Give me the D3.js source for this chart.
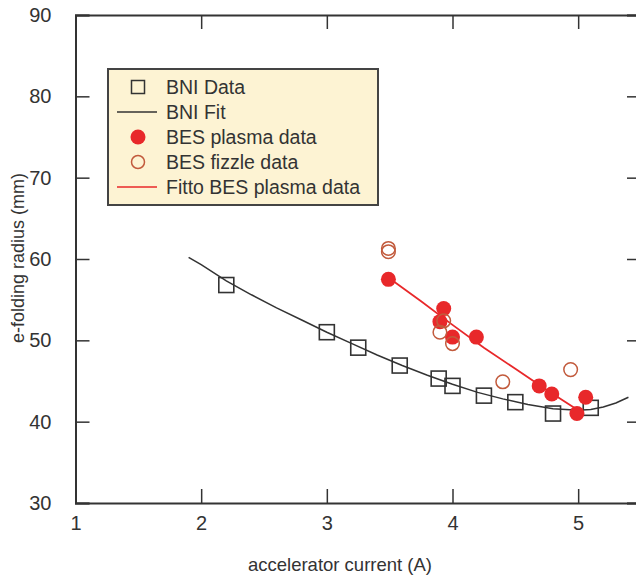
<!DOCTYPE html>
<html><head><meta charset="utf-8">
<script src="https://cdn.jsdelivr.net/npm/d3@7"></script>
<style>body{margin:0;background:#fff}svg{display:block}text{font-family:"Liberation Sans",Arial,Helvetica,sans-serif;fill:#333}</style>
</head><body><svg id="c" width="636" height="580"></svg>
<script>
const xTicks=[1,2,3,4,5];
const yTicks=[30,40,50,60,70,80,90];
const bniX=[2.2,3.0,3.25,3.58,3.89,4.0,4.25,4.5,4.8,5.1];
const bniY=[56.8,51.0,49.1,46.9,45.3,44.4,43.2,42.4,41.0,41.7];
const bniFitX=[1.9,2.0,2.2,2.4,2.6,2.8,3.0,3.2,3.4,3.6,3.8,4.0,4.2,4.4,4.6,4.8,5.0,5.1,5.2,5.3,5.4];
const bniFitY=[60.2,59.3,57.3,55.6,54.0,52.5,51.0,49.6,48.2,46.9,45.7,44.6,43.6,42.8,42.1,41.6,41.4,41.5,41.8,42.3,43.0];
const besX=[3.49,3.93,3.9,4.0,4.19,4.69,4.79,4.99,5.06];
const besY=[57.5,53.9,52.3,50.4,50.4,44.4,43.4,41.0,43.0];
const fizX=[3.49,3.49,3.93,3.9,4.0,4.4,4.94];
const fizY=[61.3,60.9,52.4,51.0,49.6,44.9,46.4];
const besFitX=[3.5,3.75,4.0,4.25,4.5,4.75,5.0];
const besFitY=[57.6,54.8,51.9,49.1,46.5,43.9,41.4];
const legendLabels=["BNI Data","BNI Fit","BES plasma data","BES fizzle data","Fitto BES plasma data"];

const svg=d3.select("#c");
const L=75.5,R=641,T=15,B=503;
const x=d3.scaleLinear().domain([1,5.5]).range([L,R]);
const y=d3.scaleLinear().domain([30,90]).range([B,T]);
const ink="#333", red="#e8282a", fiz="#c25a3c";

const gB=svg.append("g").attr("transform",`translate(0,${B})`).call(d3.axisBottom(x).tickValues(xTicks).tickSize(-14).tickPadding(20).tickFormat(d3.format("d")));
const gT=svg.append("g").attr("transform",`translate(0,${T})`).call(d3.axisTop(x).tickValues(xTicks).tickSize(-14).tickFormat(""));
const gL=svg.append("g").attr("transform",`translate(${L},0)`).call(d3.axisLeft(y).tickValues(yTicks).tickSize(-14).tickPadding(24).tickFormat(d3.format("d")));
const gR=svg.append("g").attr("transform",`translate(${R},0)`).call(d3.axisRight(y).tickValues(yTicks).tickSize(-14).tickFormat(""));
[gB,gT,gL,gR].forEach(g=>{
  g.select(".domain").attr("stroke",ink).attr("stroke-width",2);
  g.selectAll(".tick line").attr("stroke",ink).attr("stroke-width",1.5);
  g.selectAll(".tick text").attr("fill",ink).style("font-size","20px").style("font-family","'Liberation Sans',Arial,sans-serif");
});
gB.selectAll(".tick text").attr("dy","0.35em");

svg.append("text").attr("x",340).attr("y",571).attr("text-anchor","middle").style("font-size","18.5px").text("accelerator current (A)");
svg.append("text").attr("transform","translate(24,258) rotate(-90)").attr("text-anchor","middle").style("font-size","18px").text("e-folding radius (mm)");

const line=d3.line().x(d=>x(d[0])).y(d=>y(d[1]));
svg.append("path").datum(d3.zip(bniFitX,bniFitY)).attr("d",line).attr("fill","none").attr("stroke",ink).attr("stroke-width",1.5);
svg.append("path").datum(d3.zip(besFitX,besFitY)).attr("d",line).attr("fill","none").attr("stroke",red).attr("stroke-width",1.8);

const s=15;
svg.append("g").selectAll("rect").data(d3.zip(bniX,bniY)).join("rect")
  .attr("x",d=>x(d[0])-s/2).attr("y",d=>y(d[1])-s/2).attr("width",s).attr("height",s)
  .attr("fill","none").attr("stroke",ink).attr("stroke-width",1.6);
svg.append("g").selectAll("circle").data(d3.zip(besX,besY)).join("circle")
  .attr("cx",d=>x(d[0])).attr("cy",d=>y(d[1])).attr("r",7.5).attr("fill",red);
svg.append("g").selectAll("circle").data(d3.zip(fizX,fizY)).join("circle")
  .attr("cx",d=>x(d[0])).attr("cy",d=>y(d[1])).attr("r",6.8).attr("fill","none").attr("stroke",fiz).attr("stroke-width",1.5);

const lg=svg.append("g");
lg.append("rect").attr("x",108).attr("y",69).attr("width",270).attr("height",136).attr("fill","#fdf3d3").attr("stroke","#444").attr("stroke-width",2);
const rows=[87,112,137,162,187], sx=138;
lg.append("rect").attr("x",sx-6.5).attr("y",rows[0]-6.5).attr("width",13).attr("height",13).attr("fill","none").attr("stroke",ink).attr("stroke-width",1.5);
lg.append("line").attr("x1",117).attr("x2",157).attr("y1",rows[1]).attr("y2",rows[1]).attr("stroke",ink).attr("stroke-width",1.5);
lg.append("circle").attr("cx",sx).attr("cy",rows[2]).attr("r",7.5).attr("fill",red);
lg.append("circle").attr("cx",sx).attr("cy",rows[3]).attr("r",6.5).attr("fill","none").attr("stroke",fiz).attr("stroke-width",1.5);
lg.append("line").attr("x1",117).attr("x2",157).attr("y1",rows[4]).attr("y2",rows[4]).attr("stroke",red).attr("stroke-width",1.5);
lg.selectAll("text").data(legendLabels).join("text").attr("x",166).attr("y",(d,i)=>rows[i]).attr("dy","0.35em").style("font-size","19.5px").text(d=>d);
</script></body></html>
